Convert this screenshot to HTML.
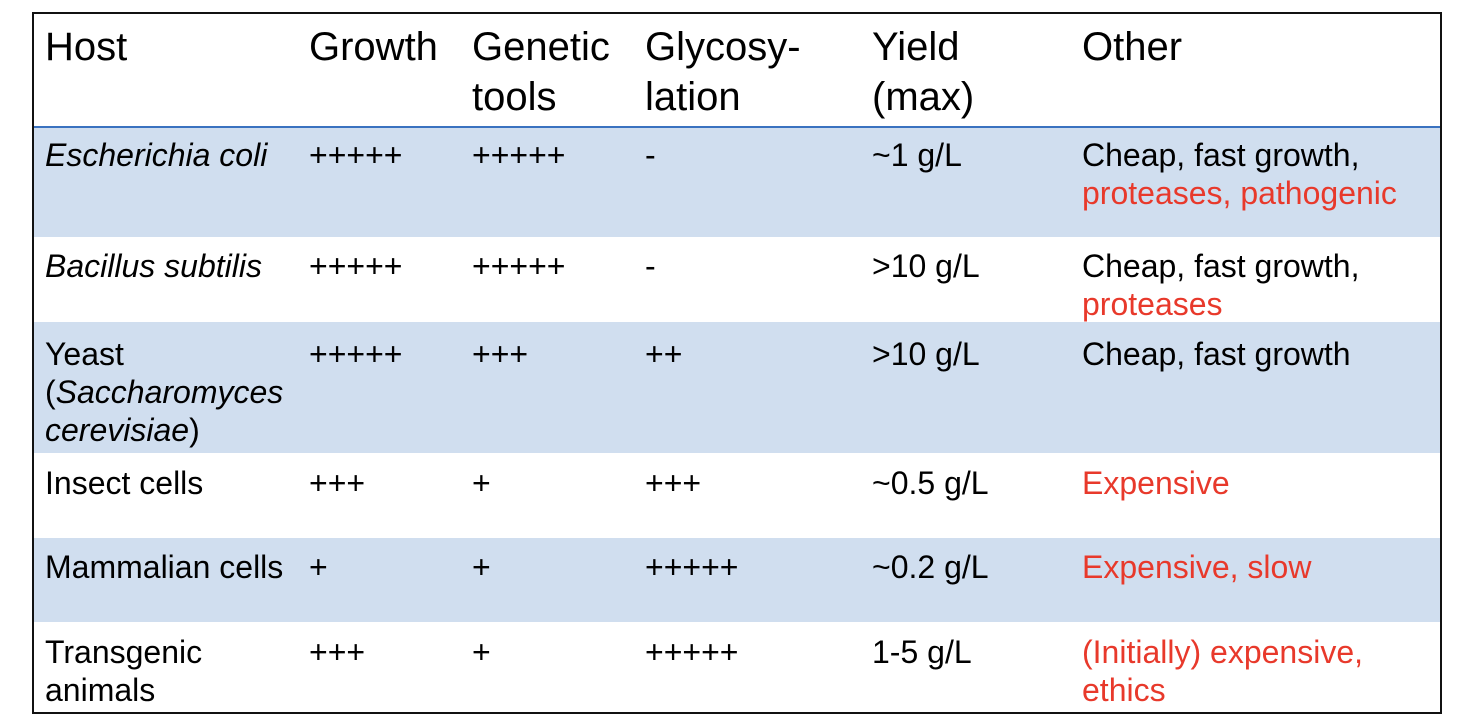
<!DOCTYPE html>
<html><head><meta charset="utf-8"><style>
body{margin:0;width:1470px;height:726px;background:#fff;position:relative;overflow:hidden;font-family:"Liberation Sans",Arial,sans-serif;color:#000}
.box{position:absolute;left:32px;top:12px;width:1406px;height:698px;border:2px solid #111}
.bg{position:absolute;left:34px;width:1406px;background:#d0deef}
.t{position:absolute;white-space:nowrap}
.h{font-size:40px;line-height:50px;top:22px}
.b{font-size:32px;line-height:38px}
.r{color:#e8392b}
i{font-style:italic}
</style></head><body>
<div class="bg" style="top:128px;height:109px"></div>
<div class="bg" style="top:322px;height:131px"></div>
<div class="bg" style="top:538px;height:84px"></div>
<div style="position:absolute;left:34px;top:126px;width:1406px;height:2px;background:#3a72c0"></div>
<div class="box"></div>

<div class="t h" style="left:45px">Host</div>
<div class="t h" style="left:309px">Growth</div>
<div class="t h" style="left:472px">Genetic<br>tools</div>
<div class="t h" style="left:645px">Glycosy-<br>lation</div>
<div class="t h" style="left:872px">Yield<br>(max)</div>
<div class="t h" style="left:1082px">Other</div>

<div class="t b" style="left:45px;top:136px"><i>Escherichia coli</i></div>
<div class="t b" style="left:309px;top:136px">+++++</div>
<div class="t b" style="left:472px;top:136px">+++++</div>
<div class="t b" style="left:645px;top:136px">-</div>
<div class="t b" style="left:872px;top:136px">~1 g/L</div>
<div class="t b" style="left:1082px;top:136px">Cheap, fast growth,<br><span class="r">proteases, pathogenic</span></div>

<div class="t b" style="left:45px;top:247px"><i>Bacillus subtilis</i></div>
<div class="t b" style="left:309px;top:247px">+++++</div>
<div class="t b" style="left:472px;top:247px">+++++</div>
<div class="t b" style="left:645px;top:247px">-</div>
<div class="t b" style="left:872px;top:247px">&gt;10 g/L</div>
<div class="t b" style="left:1082px;top:247px">Cheap, fast growth,<br><span class="r">proteases</span></div>

<div class="t b" style="left:45px;top:335px">Yeast<br>(<i>Saccharomyces</i><br><i>cerevisiae</i>)</div>
<div class="t b" style="left:309px;top:335px">+++++</div>
<div class="t b" style="left:472px;top:335px">+++</div>
<div class="t b" style="left:645px;top:335px">++</div>
<div class="t b" style="left:872px;top:335px">&gt;10 g/L</div>
<div class="t b" style="left:1082px;top:335px">Cheap, fast growth</div>

<div class="t b" style="left:45px;top:464px">Insect cells</div>
<div class="t b" style="left:309px;top:464px">+++</div>
<div class="t b" style="left:472px;top:464px">+</div>
<div class="t b" style="left:645px;top:464px">+++</div>
<div class="t b" style="left:872px;top:464px">~0.5 g/L</div>
<div class="t b r" style="left:1082px;top:464px">Expensive</div>

<div class="t b" style="left:45px;top:548px">Mammalian cells</div>
<div class="t b" style="left:309px;top:548px">+</div>
<div class="t b" style="left:472px;top:548px">+</div>
<div class="t b" style="left:645px;top:548px">+++++</div>
<div class="t b" style="left:872px;top:548px">~0.2 g/L</div>
<div class="t b r" style="left:1082px;top:548px">Expensive, slow</div>

<div class="t b" style="left:45px;top:633px">Transgenic<br>animals</div>
<div class="t b" style="left:309px;top:633px">+++</div>
<div class="t b" style="left:472px;top:633px">+</div>
<div class="t b" style="left:645px;top:633px">+++++</div>
<div class="t b" style="left:872px;top:633px">1-5 g/L</div>
<div class="t b r" style="left:1082px;top:633px">(Initially) expensive,<br>ethics</div>
</body></html>
